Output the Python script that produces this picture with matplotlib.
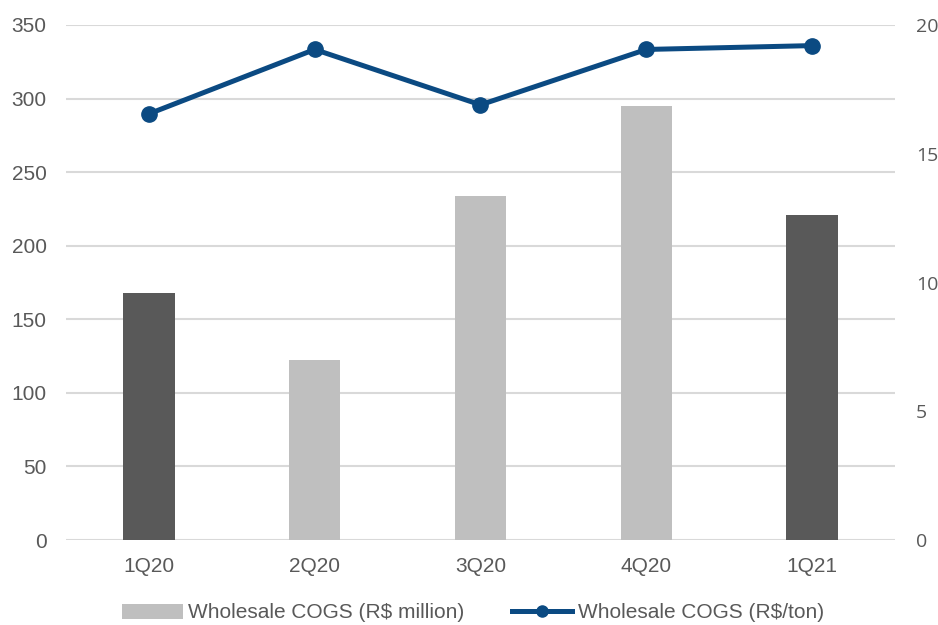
import matplotlib
matplotlib.use("Agg")
import matplotlib.pyplot as plt
from matplotlib.patches import Patch
from matplotlib.lines import Line2D

categories = ["1Q20", "2Q20", "3Q20", "4Q20", "1Q21"]
cogs_million = [168, 122, 234, 295, 221]
cogs_per_ton = [16.55, 19.05, 16.9, 19.05, 19.2]
bar_colors = ["#595959", "#BFBFBF", "#BFBFBF", "#BFBFBF", "#595959"]
left_ticks = [0, 50, 100, 150, 200, 250, 300, 350]
right_ticks = [0, 5, 10, 15, 20]

text_color = "#595959"
line_color = "#0B4A82"
grid_color = "#D9D9D9"

fig = plt.figure(figsize=(9.38, 6.25), dpi=100)
ax = fig.add_axes([66/938, 1 - 540/625, (895 - 66)/938, (540 - 25)/625])
x = list(range(len(categories)))
ax.bar(x, cogs_million, width=0.31, color=bar_colors, zorder=2)
ax.set_xlim(-0.5, len(categories) - 0.5)
ax.set_ylim(0, 350)
ax.set_yticks(left_ticks)
ax.set_xticks(x)
ax.set_xticklabels(categories)
for s in ax.spines.values():
    s.set_visible(False)
ax.grid(axis="y", color=grid_color, linewidth=1.5, zorder=0)
ax.set_axisbelow(True)
ax.tick_params(axis="y", length=0, pad=14, labelsize=15, labelcolor=text_color)
ax.tick_params(axis="x", length=0, pad=12, labelsize=15, labelcolor=text_color)
for lab in ax.get_xticklabels() + ax.get_yticklabels():
    lab.set_fontfamily("Liberation Sans")

ax2 = ax.twinx()
ax2.plot(x, cogs_per_ton, color=line_color, linewidth=3.6, marker="o",
         markersize=11, zorder=3)
ax2.set_ylim(0, 20)
ax2.set_yticks(right_ticks)
for s in ax2.spines.values():
    s.set_visible(False)
ax2.tick_params(axis="y", length=0, pad=15, labelsize=14, labelcolor=text_color)
for lab in ax2.get_yticklabels():
    lab.set_fontfamily("Open Sans")

handles = [Patch(facecolor="#BFBFBF", edgecolor="none"),
           Line2D([], [], color=line_color, linewidth=3.6, marker="o", markersize=8)]
labels = ["Wholesale COGS (R$ million)", "Wholesale COGS (R$/ton)"]
leg = fig.legend(handles, labels, loc="center", bbox_to_anchor=(0.5 + 4/938, 1 - 613/625),
                 ncol=2, frameon=False, handlelength=2.9, handletextpad=0.25,
                 columnspacing=2.3, prop={"family": "Liberation Sans", "size": 15})
for t in leg.get_texts():
    t.set_color(text_color)

fig.savefig("out.png", dpi=100)
